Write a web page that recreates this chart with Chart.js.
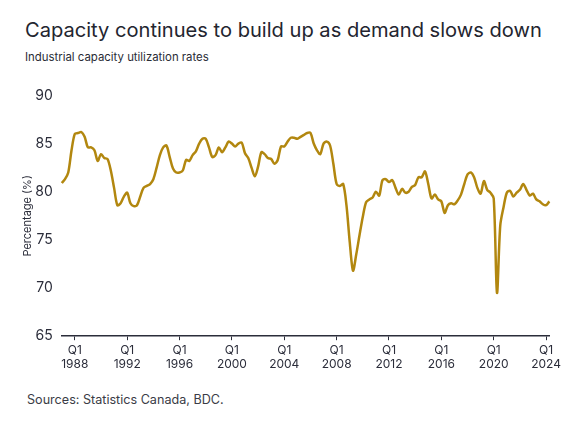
<!DOCTYPE html>
<html>
<head>
<meta charset="utf-8">
<script src="https://cdn.jsdelivr.net/npm/chart.js@4.4.1/dist/chart.umd.min.js"></script>
<style>
  body { margin: 0; width: 575px; height: 431px; background: #fff; position: relative; overflow: hidden; font-family: "Inter", "Open Sans", sans-serif; color: #23252f; }
  #title { position: absolute; left: 25px; top: 18px; font-size: 20.1px; font-weight: 400; white-space: nowrap; }
  #subtitle { position: absolute; left: 25px; top: 50px; font-size: 11.4px; white-space: nowrap; color: #2a2c36; }
  #source { position: absolute; left: 27px; top: 392px; font-size: 12.6px; white-space: nowrap; color: #3a3c46; }
  #wrap { position: absolute; left: 7px; top: 86px; width: 557px; height: 289px; }
</style>
</head>
<body>
<div id="title">Capacity continues to build up as demand slows down</div>
<div id="subtitle">Industrial capacity utilization rates</div>
<div id="wrap"><canvas id="chart"></canvas></div>
<div id="source">Sources: Statistics Canada, BDC.</div>
<script>
// quarterly series starts 1987 Q1, ends 2024 Q2
const startYear = 1987;
const tickYears = [1988, 1992, 1996, 2000, 2004, 2008, 2012, 2016, 2020, 2024];

const utilization = [
  80.9, 81.3, 82.0, 84.3, 86.0, 86.1, 86.2, 85.7, 84.6, 84.6,
  84.3, 83.2, 83.9, 83.5, 83.4, 82.2, 80.4, 78.6, 78.8, 79.5,
  79.9, 78.8, 78.5, 78.6, 79.5, 80.4, 80.6, 80.8, 81.3, 82.5,
  83.8, 84.6, 84.8, 83.6, 82.4, 82.0, 82.0, 82.2, 83.3, 83.2,
  83.8, 84.2, 85.0, 85.5, 85.5, 84.6, 83.6, 83.8, 84.6, 84.1,
  84.6, 85.2, 85.0, 84.7, 85.0, 85.1, 84.0, 83.5, 82.5, 81.6,
  82.6, 84.1, 83.9, 83.5, 83.4, 82.9, 83.3, 84.7, 84.7, 85.2,
  85.6, 85.6, 85.5, 85.7, 85.9, 86.1, 86.1, 85.0, 84.3, 83.9,
  85.0, 85.2, 84.8, 82.9, 80.8, 80.6, 80.8, 78.6, 74.8, 71.8,
  73.5, 75.5, 77.4, 78.9, 79.2, 79.4, 80.0, 79.6, 81.2, 81.3,
  81.0, 81.2, 80.4, 79.7, 80.3, 79.9, 80.0, 80.5, 80.7, 81.5,
  81.5, 82.1, 80.8, 79.3, 79.7, 79.2, 79.0, 77.8, 78.6, 78.8,
  78.7, 79.1, 79.7, 80.8, 81.8, 82.0, 81.5, 80.4, 79.8, 81.1,
  80.2, 79.9, 79.3, 69.5, 76.5, 78.4, 79.9, 80.1, 79.5, 79.9,
  80.2, 80.8, 80.2, 79.6, 79.8, 79.2, 79.0, 78.7, 78.6, 79.0
];

const quarters = [];
for (let i = 0; i < utilization.length; i++) {
  quarters.push(["Q" + ((i % 4) + 1), String(startYear + Math.floor(i / 4))]);
}

const ctx = document.getElementById("chart").getContext("2d");
new Chart(ctx, {
  type: "line",
  data: {
    labels: quarters,
    datasets: [
      {
        label: "Capacity utilization",
        data: utilization,
        borderColor: "#b2870f",
        borderWidth: 2.5,
        pointRadius: 0,
        tension: 0.3,
        fill: false,
      },
    ],
  },
  options: {
    responsive: true,
    maintainAspectRatio: false,
    animation: false,
    layout: { padding: { left: 14, right: 4, top: 4, bottom: 0 } },
    plugins: {
      legend: { display: false },
      tooltip: { enabled: false },
    },
    scales: {
      x: {
        grid: {
          drawOnChartArea: false,
          drawTicks: true,
          tickLength: 4,
          color: "#2b2d3a",
        },
        border: { display: true, color: "#2b2d3a", width: 1.5 },
        ticks: {
          autoSkip: false,
          maxRotation: 0,
          padding: 3,
          color: "#2b2d3a",
          font: { family: "Inter", size: 12 },
          callback: function (value, index) {
            const q = quarters[index];
            if (q[0] === "Q1" && tickYears.includes(Number(q[1]))) return q;
            return null;
          },
        },
      },
      y: {
        min: 65,
        max: 90,
        grid: { display: false },
        border: { display: false },
        ticks: {
          stepSize: 5,
          padding: 1,
          color: "#2b2d3a",
          font: { family: "Inter", size: 14 },
        },
        title: {
          display: true,
          text: "Percentage (%)",
          color: "#2b2d3a",
          font: { family: "Inter", size: 11 },
          padding: { top: 0, bottom: 0 },
        },
      },
    },
  },
});
</script>
</body>
</html>
